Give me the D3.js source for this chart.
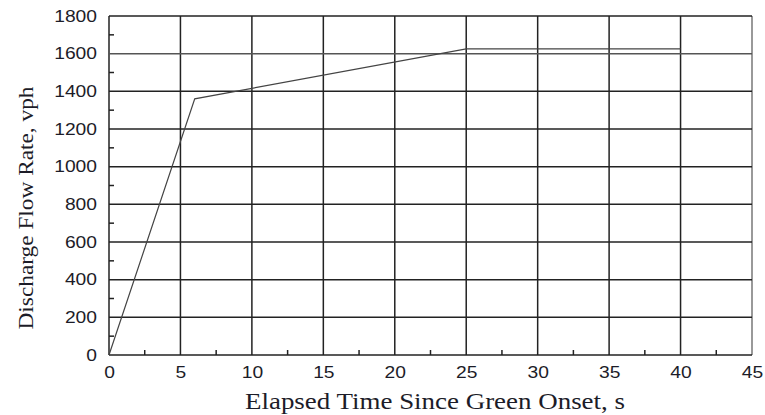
<!DOCTYPE html>
<html>
<head>
<meta charset="utf-8">
<script src="https://cdn.jsdelivr.net/npm/d3@7"></script>
<style>
  body { margin: 0; background: #fff; }
  .tick text { font-family: "Liberation Sans", Arial, sans-serif; font-size: 16px; fill: #1c1c28; }
</style>
</head>
<body>
<div id="chart"></div>
<script>
// data
const timeSec = [0, 6, 25, 40]
const flowVph = [0, 1360, 1625, 1625]

const xTicks = [0, 5, 10, 15, 20, 25, 30, 35, 40, 45]
const yTicks = [0, 200, 400, 600, 800, 1000, 1200, 1400, 1600, 1800]
const xMinor = [2.5, 7.5, 12.5, 17.5, 22.5, 27.5, 32.5, 37.5, 42.5]
const yMinor = [100, 300, 500, 700, 900, 1100, 1300, 1500, 1700]

const xTitle = 'Elapsed Time Since Green Onset, s'
const yTitle = 'Discharge Flow Rate, vph'

const dimensions = {
  width: 765,
  height: 415,
  margins: { left: 109, right: 13, top: 16, bottom: 60 },
}
const ctrW = dimensions.width - dimensions.margins.left - dimensions.margins.right
const ctrH = dimensions.height - dimensions.margins.top - dimensions.margins.bottom

// scales
const xScale = d3.scaleLinear().domain([0, 45]).range([0, ctrW])
const yScale = d3.scaleLinear().domain([0, 1800]).range([ctrH, 0])

const svg = d3
  .select('#chart')
  .append('svg')
  .attr('width', dimensions.width)
  .attr('height', dimensions.height)

const ctr = svg.append('g').attr('transform', `translate(${dimensions.margins.left}, ${dimensions.margins.top})`)

// grid
ctr
  .append('g')
  .selectAll('line')
  .data(xTicks)
  .join('line')
  .attr('x1', (d) => xScale(d))
  .attr('x2', (d) => xScale(d))
  .attr('y1', 0)
  .attr('y2', ctrH)
  .attr('stroke', (d) => (d === 45 ? '#777' : '#222'))
  .attr('stroke-width', 1.5)

ctr
  .append('g')
  .selectAll('line')
  .data(yTicks)
  .join('line')
  .attr('x1', 0)
  .attr('x2', ctrW)
  .attr('y1', (d) => yScale(d))
  .attr('y2', (d) => yScale(d))
  .attr('stroke', (d) => (d === 1600 ? '#555' : '#222'))
  .attr('stroke-width', 1.5)

// minor ticks
ctr
  .append('g')
  .selectAll('line')
  .data(xMinor)
  .join('line')
  .attr('x1', (d) => xScale(d))
  .attr('x2', (d) => xScale(d))
  .attr('y1', ctrH)
  .attr('y2', ctrH - 5)
  .attr('stroke', '#222')
  .attr('stroke-width', 1.5)

ctr
  .append('g')
  .selectAll('line')
  .data(yMinor)
  .join('line')
  .attr('x1', 0)
  .attr('x2', 5)
  .attr('y1', (d) => yScale(d))
  .attr('y2', (d) => yScale(d))
  .attr('stroke', '#222')
  .attr('stroke-width', 1.5)

// axes (labels only)
const fmt = d3.format('d')
const xAxis = d3.axisBottom(xScale).tickValues(xTicks).tickFormat(fmt).tickSize(0).tickPadding(12)
const yAxis = d3.axisLeft(yScale).tickValues(yTicks).tickFormat(fmt).tickSize(0).tickPadding(12)

const stretch = (g) =>
  g
    .selectAll('.tick text')
    .attr('textLength', (d) => fmt(d).length * 10.7)
    .attr('lengthAdjust', 'spacingAndGlyphs')

ctr
  .append('g')
  .attr('transform', `translate(0, ${ctrH})`)
  .call(xAxis)
  .call((g) => g.select('.domain').remove())
  .call(stretch)

ctr
  .append('g')
  .call(yAxis)
  .call((g) => g.select('.domain').remove())
  .call(stretch)

// data line
const line = d3
  .line()
  .x((d, i) => xScale(timeSec[i]))
  .y((d) => yScale(d))

ctr
  .append('path')
  .datum(flowVph)
  .attr('d', line)
  .attr('fill', 'none')
  .attr('stroke', '#444')
  .attr('stroke-width', 1.2)

// titles
svg
  .append('text')
  .attr('x', 435)
  .attr('y', 409)
  .attr('text-anchor', 'middle')
  .attr('textLength', 380)
  .attr('lengthAdjust', 'spacingAndGlyphs')
  .style('font-family', '"Liberation Serif", "Times New Roman", serif')
  .style('font-size', '23px')
  .style('fill', '#1c1c28')
  .text(xTitle)

svg
  .append('text')
  .attr('transform', 'translate(33, 208) rotate(-90)')
  .attr('text-anchor', 'middle')
  .attr('textLength', 243)
  .attr('lengthAdjust', 'spacingAndGlyphs')
  .style('font-family', '"Liberation Serif", "Times New Roman", serif')
  .style('font-size', '22px')
  .style('fill', '#1c1c28')
  .text(yTitle)
</script>
</body>
</html>
